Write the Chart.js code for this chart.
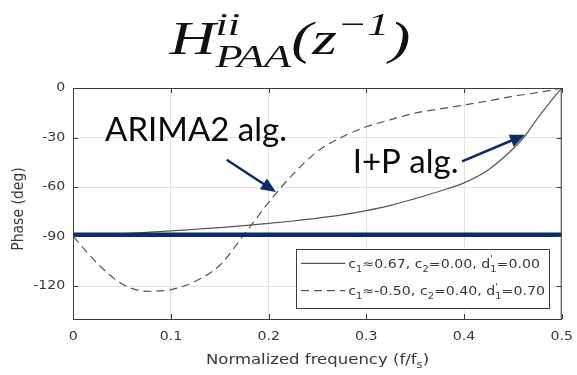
<!DOCTYPE html>
<html>
<head>
<meta charset="utf-8">
<script src="https://cdn.jsdelivr.net/npm/chart.js@4.4.0/dist/chart.umd.min.js"></script>
<style>
  html, body { margin: 0; padding: 0; background: #fff; }
  #wrap { width: 577px; height: 375px; }
</style>
</head>
<body>
<div id="wrap"><canvas id="phaseChart" width="577" height="375"></canvas></div>
<script>
// normalized frequency samples (f/fs)
const freq = [0, 0.025, 0.05, 0.075, 0.1, 0.125, 0.15, 0.175, 0.2, 0.225, 0.25, 0.275,
  0.3, 0.325, 0.35, 0.375, 0.4, 0.425, 0.45, 0.4625, 0.475, 0.4875, 0.5];
// I+P alg. phase in deg (solid)
const ipPhase = [-90, -89.2, -88.3, -87.5, -86.6, -85.6, -84.6, -83.4, -82.1, -80.6, -78.9, -76.9,
  -74.3, -71.1, -67, -62.6, -57.5, -49.5, -37, -29, -18.5, -9, 0];
// ARIMA2 alg. phase in deg (dashed)
const arimaPhase = [-90, -106.5, -118.8, -123.2, -122.2, -117.1, -107.4, -88.7, -69.3, -52.2, -38.4, -29.7,
  -23.5, -19.2, -15.2, -12.7, -10.3, -7.8, -5, -3.9, -2.8, -1.6, 0];
// thick blue reference line
const refPhase = -89;

const xTicks = [0, 0.1, 0.2, 0.3, 0.4, 0.5];
const yTicks = [0, -30, -60, -90, -120];
const yMin = -140;
const yMax = 0;

const legendLabels = ["c_1≈0.67, c_2=0.00, d^{'}_1=0.00", "c_1≈-0.50, c_2=0.40, d^{'}_1=0.70"];
const titleText = 'H^{ii}_{PAA}(z^{−1})';
const xTitle = 'Normalized frequency (f/f_s)';
const yTitle = 'Phase (deg)';

// callouts, in data units
const noteText = ['ARIMA2 alg.', 'I+P alg.'];
const noteAt = [[0.0325, -32.4], [0.286, -51.3]];
const arrowTail = [[0.157, -43.5], [0.398, -44.5]];
const arrowTip = [[0.2075, -63.1], [0.4625, -28.4]];

const navy = '#0d2b69';
const curveGray = '#555555';
const textGray = '#383838';
const stretch = 1.18; // the matlab figure is a bit wider than tall

// split "c_1=..." style strings into normal / sub / sup pieces
function parseRich(str) {
  const parts = [];
  let buf = '';
  for (let i = 0; i < str.length; i++) {
    const ch = str[i];
    if (ch === '_' || ch === '^') {
      if (buf) { parts.push({ t: buf, k: 'n' }); buf = ''; }
      let grp;
      if (str[i + 1] === '{') {
        const end = str.indexOf('}', i + 2);
        grp = str.slice(i + 2, end);
        i = end;
      } else {
        grp = str[i + 1];
        i++;
      }
      parts.push({ t: grp, k: ch === '_' ? 'sub' : 'sup' });
    } else {
      buf += ch;
    }
  }
  if (buf) parts.push({ t: buf, k: 'n' });
  return parts;
}

// draw (or only measure) rich text, returns its width
function richText(ctx, str, x, y, o, draw) {
  const sx = o.sx || 1;
  let cx = x, scriptX = x, scriptW = 0, lastKind = 'n';
  parseRich(str).forEach(p => {
    const size = p.k === 'n' ? o.size : o.size * 0.7;
    ctx.font = `${o.style || 'normal'} ${size}px ${o.family}`;
    const w = ctx.measureText(p.t).width * sx;
    let px = cx;
    if (p.k !== 'n' && lastKind !== 'n' && lastKind !== p.k) {
      // sub and sup stacked on each other
      px = scriptX;
      scriptW = Math.max(scriptW, w);
      cx = scriptX + scriptW;
    } else {
      if (p.k !== 'n') { scriptX = cx; scriptW = w; }
      cx += w;
    }
    const dy = p.k === 'sub' ? o.size * (o.subShift || 0.3) : p.k === 'sup' ? -o.size * (o.supShift || 0.42) : 0;
    if (draw) {
      ctx.save();
      ctx.translate(px, y + dy);
      ctx.scale(sx, 1);
      ctx.textAlign = 'left';
      ctx.fillText(p.t, 0, 0);
      ctx.restore();
    }
    lastKind = p.k;
  });
  return cx - x;
}

function drawRich(ctx, str, x, y, o, align) {
  const w = richText(ctx, str, 0, 0, o, false);
  let x0 = x;
  if (align === 'center') x0 = x - w / 2;
  if (align === 'right') x0 = x - w;
  richText(ctx, str, x0, y, o, true);
}

function drawArrow(ctx, x0, y0, x1, y1) {
  const ang = Math.atan2(y1 - y0, x1 - x0);
  const c = Math.cos(ang), s = Math.sin(ang);
  const head = 15, half = 6.5;
  ctx.beginPath();
  ctx.moveTo(x0, y0);
  ctx.lineTo(x1 - head * 0.8 * c, y1 - head * 0.8 * s);
  ctx.stroke();
  ctx.beginPath();
  ctx.moveTo(x1, y1);
  ctx.lineTo(x1 - head * c + half * s, y1 - head * s - half * c);
  ctx.lineTo(x1 - head * c - half * s, y1 - head * s + half * c);
  ctx.closePath();
  ctx.fill();
}

const overlay = {
  id: 'overlay',
  afterDraw(chart) {
    const { ctx, chartArea: a, scales: { x, y } } = chart;
    ctx.save();

    // box on top and right, inward ticks
    ctx.strokeStyle = '#3c3c3c';
    ctx.lineWidth = 1;
    ctx.beginPath();
    ctx.moveTo(a.left, a.top + 0.5);
    ctx.lineTo(a.right, a.top + 0.5);
    ctx.moveTo(a.right - 0.5, a.top);
    ctx.lineTo(a.right - 0.5, a.bottom);
    xTicks.forEach(v => {
      const px = Math.round(x.getPixelForValue(v)) + 0.5;
      ctx.moveTo(px, a.bottom); ctx.lineTo(px, a.bottom - 5);
      ctx.moveTo(px, a.top); ctx.lineTo(px, a.top + 5);
    });
    yTicks.forEach(v => {
      const py = Math.round(y.getPixelForValue(v)) + 0.5;
      ctx.moveTo(a.left, py); ctx.lineTo(a.left + 5, py);
      ctx.moveTo(a.right, py); ctx.lineTo(a.right - 5, py);
    });
    ctx.stroke();

    // tick labels
    ctx.fillStyle = textGray;
    ctx.textBaseline = 'middle';
    const tickFont = { size: 12, family: "'DejaVu Sans', sans-serif", sx: stretch };
    xTicks.forEach(v => drawRich(ctx, String(v), x.getPixelForValue(v), a.bottom + 18, tickFont, 'center'));
    yTicks.forEach(v => drawRich(ctx, String(v), a.left - 8, y.getPixelForValue(v), tickFont, 'right'));

    // axis titles
    const labelFont = { size: 14, family: "'DejaVu Sans', sans-serif", sx: stretch, subShift: 0.3 };
    ctx.textBaseline = 'alphabetic';
    drawRich(ctx, xTitle, (a.left + a.right) / 2, a.bottom + 45, labelFont, 'center');
    ctx.save();
    ctx.translate(19, 209);
    ctx.scale(stretch, 1);
    ctx.rotate(-Math.PI / 2);
    ctx.textBaseline = 'middle';
    drawRich(ctx, yTitle, 0, 0, { size: 14, family: "'DejaVu Sans', sans-serif" }, 'center');
    ctx.restore();

    // title
    ctx.fillStyle = '#111';
    ctx.textBaseline = 'alphabetic';
    drawRich(ctx, titleText, 290, 54, {
      size: 46, family: "'Liberation Serif', serif", style: 'italic', sx: 1.38, subShift: 0.28, supShift: 0.42
    }, 'center');

    // legend box
    const bw = 253, bh = 59;
    const bx = a.right - 12.4 - bw, by = a.bottom - 10.7 - bh;
    ctx.fillStyle = '#fff';
    ctx.fillRect(bx, by, bw, bh);
    ctx.strokeStyle = '#3c3c3c';
    ctx.strokeRect(Math.round(bx) + 0.5, Math.round(by) + 0.5, bw, bh);
    const legFont = { size: 12, family: "'DejaVu Sans', sans-serif", sx: stretch, subShift: 0.32, supShift: 0.45 };
    chart.data.datasets.slice(1).forEach((ds, i) => {
      const ry = by + 14 + i * 27.4;
      ctx.strokeStyle = ds.borderColor;
      ctx.lineWidth = 1.2;
      ctx.setLineDash(ds.borderDash || []);
      ctx.beginPath();
      ctx.moveTo(bx + 4.7, ry);
      ctx.lineTo(bx + 49, ry);
      ctx.stroke();
      ctx.setLineDash([]);
      ctx.fillStyle = textGray;
      drawRich(ctx, ds.label, bx + 52, ry + 4.5, legFont, 'left');
    });

    // callout text and arrows
    ctx.fillStyle = '#0a0a0a';
    ctx.font = "33px Lato, 'Open Sans', sans-serif";
    ctx.textAlign = 'left';
    noteText.forEach((t, i) => {
      ctx.fillText(t, x.getPixelForValue(noteAt[i][0]), y.getPixelForValue(noteAt[i][1]));
    });
    ctx.strokeStyle = navy;
    ctx.fillStyle = navy;
    ctx.lineWidth = 2.6;
    arrowTail.forEach((t, i) => {
      drawArrow(ctx,
        x.getPixelForValue(t[0]), y.getPixelForValue(t[1]),
        x.getPixelForValue(arrowTip[i][0]), y.getPixelForValue(arrowTip[i][1]));
    });

    ctx.restore();
  }
};

new Chart(document.getElementById('phaseChart'), {
  type: 'line',
  data: {
    datasets: [
      {
        label: 'reference',
        data: [{ x: xTicks[0], y: refPhase }, { x: xTicks[xTicks.length - 1], y: refPhase }],
        borderColor: navy,
        borderWidth: 4.5,
        pointRadius: 0
      },
      {
        label: legendLabels[0],
        data: freq.map((f, i) => ({ x: f, y: ipPhase[i] })),
        borderColor: curveGray,
        borderWidth: 1.2,
        pointRadius: 0,
        cubicInterpolationMode: 'monotone'
      },
      {
        label: legendLabels[1],
        data: freq.map((f, i) => ({ x: f, y: arimaPhase[i] })),
        borderColor: curveGray,
        borderWidth: 1.2,
        borderDash: [8, 5],
        pointRadius: 0,
        cubicInterpolationMode: 'monotone'
      }
    ]
  },
  options: {
    responsive: false,
    animation: false,
    devicePixelRatio: 1,
    layout: { padding: { top: 88, right: 15.3, left: 0, bottom: 0 } },
    plugins: { legend: { display: false }, tooltip: { enabled: false } },
    scales: {
      x: {
        type: 'linear',
        min: xTicks[0],
        max: xTicks[xTicks.length - 1],
        afterBuildTicks: s => { s.ticks = xTicks.map(v => ({ value: v })); },
        afterFit: s => { s.height = 56; },
        ticks: { display: false },
        grid: { color: '#e2e2e2', drawTicks: false },
        border: { color: '#3c3c3c' }
      },
      y: {
        type: 'linear',
        min: yMin,
        max: yMax,
        afterBuildTicks: s => { s.ticks = yTicks.map(v => ({ value: v })); },
        afterFit: s => { s.width = 73.3; },
        ticks: { display: false },
        grid: { color: '#e2e2e2', drawTicks: false },
        border: { color: '#3c3c3c' }
      }
    }
  },
  plugins: [overlay]
});
</script>
</body>
</html>
